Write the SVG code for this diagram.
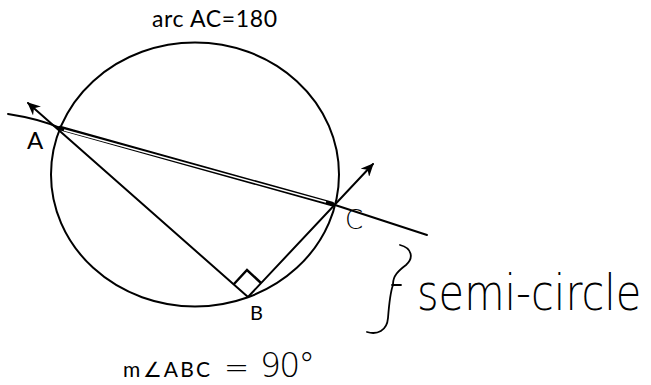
<svg xmlns="http://www.w3.org/2000/svg" width="651" height="385" viewBox="0 0 651 385">
<style>
.ln{fill:none;stroke:#000;stroke-width:2;stroke-linecap:round}
.lbl{font-family:Lato,"Liberation Sans",sans-serif;fill:#000}
.hw{font-family:"DejaVu Sans","Liberation Sans",sans-serif;font-weight:200;fill:#000}
</style>
<defs>
<marker id="arr" viewBox="0 0 14 12" refX="12" refY="6" markerWidth="14" markerHeight="12" markerUnits="userSpaceOnUse" orient="auto">
<path d="M0,0 L13,6 L0,12 L4,6 z" fill="#000"/>
</marker>
</defs>
<rect width="651" height="385" fill="#fff"/>
<g id="circle">
<ellipse cx="195" cy="174.5" rx="144" ry="132" fill="none" stroke="#000" stroke-width="2"/>
</g>
<g id="connectors">
<path id="secant" d="M8,114 Q40,119 60,128" class="ln" stroke-width="2.4"/>
<path d="M60,128 L332,204" fill="none" stroke="#000" stroke-width="4.6" stroke-linecap="round"/>
<path d="M64,130 L326,202" fill="none" stroke="#fff" stroke-width="1.6"/>
<path d="M332,204 L427,235" class="ln" stroke-width="2.2"/>
<path id="ray-BA" d="M248,297 L28,103" class="ln" marker-end="url(#arr)"/>
<path id="ray-BC" d="M248,297 L373,164" class="ln" marker-end="url(#arr)"/>
<path id="right-angle" d="M234,284 L247,270 L261,283" fill="none" stroke="#000" stroke-width="2.4"/>
<path id="brace" d="M400,245 C412,248 414,258 406,265 C398,271 393,276 393,284 M392,285 L401,285 M393,285 C390,293 389,305 388,318 C387,331 377,335 367,332" fill="none" stroke="#000" stroke-width="1.8" stroke-linecap="round"/>
</g>
<g id="labels">
<text class="lbl" x="152" y="27" font-size="23" textLength="125">arc AC=180</text>
<text class="lbl" x="27" y="149" font-size="24">A</text>
<text class="lbl" x="250" y="320" font-size="20">B</text>
<text class="hw" x="345" y="229" font-size="26" font-weight="300">C</text>
<text class="hw" transform="translate(417,310) scale(1,1.18)" x="0" y="0" font-size="41.5">semi-circle</text>
<text class="lbl" x="123" y="377" font-size="21" textLength="87">m∠ABC</text>
<text class="hw" x="224" y="378" font-size="30">=</text>
<text class="hw" x="260" y="377" font-size="33" textLength="55">90°</text>
</g>
</svg>
